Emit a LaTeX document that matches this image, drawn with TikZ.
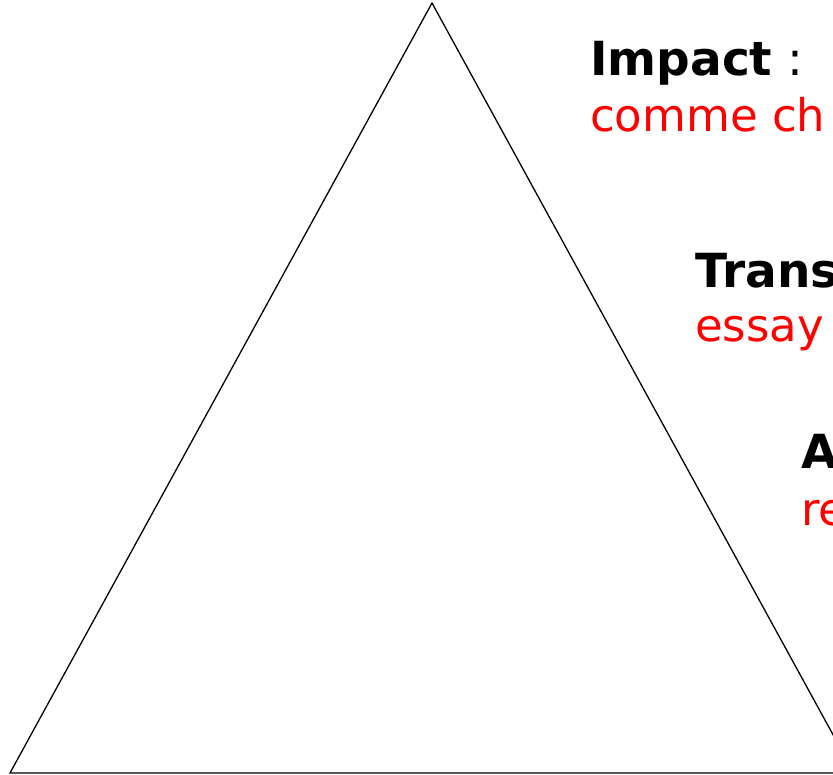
\documentclass[tikz,border=0pt]{standalone}
\usepackage{xcolor}
\usepackage{fontspec}
\setmainfont{DejaVu Sans}
\usepackage{tikz}

\begin{document}
\begin{tikzpicture}[
    x=1pt, y=-1pt,
    title/.style={anchor=base west, inner sep=0pt, font=\fontsize{47}{56}\selectfont\bfseries},
    desc/.style={anchor=base west, inner sep=0pt, text=red, font=\fontsize{45}{56}\selectfont},
    edge/.style={line width=1.3pt, line join=miter}
]
    \useasboundingbox (0,0) rectangle (833,775);
    \clip (0,0) rectangle (833,775);

    \coordinate (top) at (432,3);
    \coordinate (left) at (10,773);
    \coordinate (right) at (854,773);
    \draw[edge] (top) -- (left) -- (right) -- cycle;

    \node[title] (impact) at (590,76) {Impact\mdseries\ :};
    \node[desc] (impactdesc) at (590,132) {comme ch};
    \node[title] (trans) at (695,288) {Trans};
    \node[desc] (transdesc) at (695,342) {essay};
    \node[title] (appr) at (801,468) {A};
    \node[desc] (apprdesc) at (801,525) {re};
\end{tikzpicture}
\end{document}
